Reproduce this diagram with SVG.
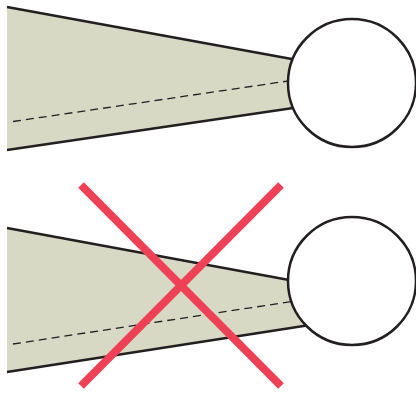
<svg xmlns="http://www.w3.org/2000/svg" width="416" height="393" viewBox="0 0 416 393">
<style>
.fill{fill:#d8d9c5;stroke:none}
.edge{stroke:#231f20;stroke-width:2.5;fill:none}
.dash{stroke:#231f20;stroke-width:1.3;stroke-dasharray:8 5;fill:none}
.ball{fill:#fff;stroke:#231f20;stroke-width:2.5}
.cross{stroke:#ef4155;stroke-width:8;fill:none}
</style>
<g id="top">
<polygon class="fill" points="7,7 310,62 310,105 7,150"/>
<line class="edge" x1="7" y1="7" x2="300" y2="60.5"/>
<line class="edge" x1="7" y1="150" x2="300" y2="107"/>
<line class="dash" x1="13" y1="121.5" x2="295" y2="80"/>
<circle class="ball" cx="352" cy="83" r="64"/>
</g>
<g id="bottom">
<polygon class="fill" points="7,228 320,285 320,323 7,372"/>
<line class="edge" x1="7" y1="228" x2="300" y2="282"/>
<line class="edge" x1="7" y1="372" x2="310" y2="325"/>
<line class="dash" x1="13" y1="344" x2="295" y2="301"/>
<circle class="ball" cx="352" cy="281" r="64"/>
</g>
<g id="connectors">
<line class="cross" x1="81" y1="185" x2="281" y2="386"/>
<line class="cross" x1="281" y1="185" x2="81" y2="386"/>
</g>
</svg>
